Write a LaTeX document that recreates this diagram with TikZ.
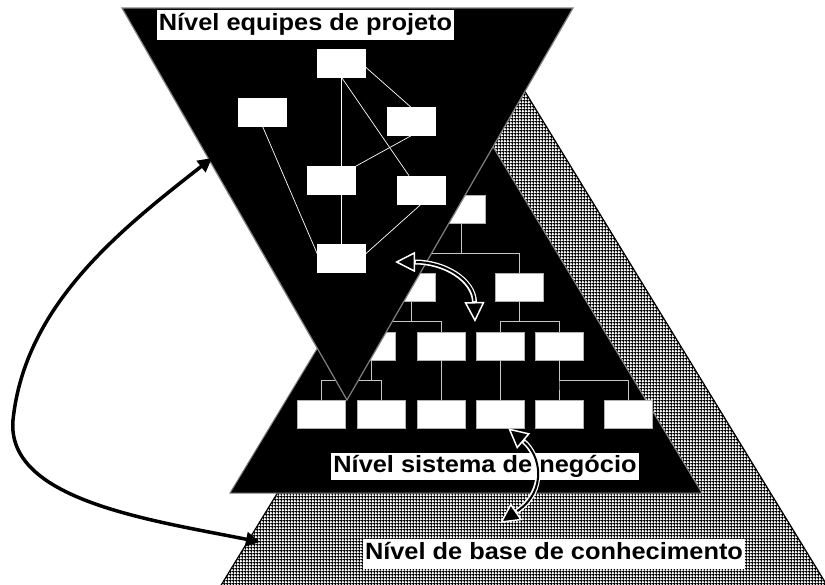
\documentclass[tikz,border=0pt]{standalone}
\usepackage{fontspec}
\setmainfont{Liberation Sans}
\usetikzlibrary{arrows.meta,patterns.meta}

% fine grid used for the knowledge base level
\tikzdeclarepattern{
  name=kbgrid,
  type=uncolored,
  bottom left={(0pt,0pt)},
  top right={(3.3pt,3.3pt)},
  tile size={(3.3pt,3.3pt)},
  code={
    \draw[line width=1pt] (0pt,1.65pt) -- (3.3pt,1.65pt) (1.65pt,0pt) -- (1.65pt,3.3pt);
  }
}

\begin{document}
\begin{tikzpicture}[x=1pt,y=-1pt,
    box/.style={draw=gray!60, fill=white, line width=0.6pt, minimum width=48pt, minimum height=28pt, inner sep=0pt},
    pbox/.style={box, draw=white},
    tline/.style={gray!45, line width=0.8pt},
    pline/.style={white, line width=0.7pt},
    lvl/.style={fill=white, inner xsep=2pt, inner ysep=3pt, text height=18pt, text depth=6pt, font=\bfseries\fontsize{23.5}{28}\selectfont},
    bigarrow/.style={black, line width=3.5pt, {Triangle[length=14pt,width=14pt]}-{Triangle[length=14pt,width=14pt]}},
    hollow/.style={white, line width=5pt, {Triangle[length=20pt,width=20pt,fill=black,line width=1.5pt]}-{Triangle[length=20pt,width=20pt,fill=black,line width=1.5pt]}},
    hcore/.style={black, line width=2pt, shorten <=21pt, shorten >=21pt}]
  \useasboundingbox (0,0) rectangle (825,584);

  % knowledge base level
  \draw[line width=1.2pt, pattern=kbgrid, pattern color=black] (524,90) -- (836,600) -- (212,600) -- cycle;

  % business system level
  \filldraw[fill=black, draw=gray, line width=1pt] (466,102) -- (702,493) -- (230,493) -- cycle;
  \node[box] (T1) at (461,209) {};
  \node[box] (T21) at (411,287.5) {};
  \node[box] (T22) at (519,287.5) {};
  \node[box] (A) at (371,346) {};
  \node[box] (B) at (441,346) {};
  \node[box] (C) at (500,346) {};
  \node[box] (D) at (559,346) {};
  \node[box] (R1) at (321.5,414) {};
  \node[box] (R2) at (381,414) {};
  \node[box] (R3) at (441,414) {};
  \node[box] (R4) at (500,414) {};
  \node[box] (R5) at (559,414) {};
  \node[box] (R6) at (628.5,414) {};
  \draw[tline] (T1.south) -- ++(0,30) -| (T21.north);
  \draw[tline] (T1.south) -- ++(0,30) -| (T22.north);
  \draw[tline] (T21.south) -- ++(0,20) -| (A.north);
  \draw[tline] (T21.south) -- ++(0,20) -| (B.north);
  \draw[tline] (T22.south) -- ++(0,20) -| (C.north);
  \draw[tline] (T22.south) -- ++(0,20) -| (D.north);
  \draw[tline] (A.south) -- ++(0,20) -| (R1.north);
  \draw[tline] (A.south) -- ++(0,20) -| (R2.north);
  \draw[tline] (B.south) -- (R3.north);
  \draw[tline] (C.south) -- (R4.north);
  \draw[tline] (D.south) -- ++(0,20) -| (R5.north);
  \draw[tline] (D.south) -- ++(0,20) -| (R6.north);

  % project teams level
  \filldraw[fill=black, draw=gray, line width=1.2pt] (122,8) -- (573,8) -- (347,400) -- cycle;
  \node[pbox] (P1) at (341.5,63) {};
  \node[pbox] (P2) at (262.5,112) {};
  \node[pbox] (P3) at (411,121.5) {};
  \node[pbox] (P4) at (331.5,180.5) {};
  \node[pbox] (P5) at (421,190) {};
  \node[pbox] (P6) at (341.5,258) {};
  \draw[pline] (P1.south) -- (P1.south |- P4.north);
  \draw[pline] (P1.south) -- (P5.130);
  \draw[pline] (P1.-10) -- (P3.north);
  \draw[pline] (P3.south) -- (P4.north east);
  \draw[pline] (P2.south) -- (P6.170);
  \draw[pline] (P4.south -| P6.north) -- (P6.north);
  \draw[pline] (P5.south) -- (P6.10);

  % level names
  \node[lvl] (proj) at (305.5,24.5) {\scalebox{1.08}[1]{Nível equipes de projeto}};
  \node[lvl, inner ysep=1.5pt] (biz) at (485,466) {\scalebox{1.08}[1]{Nível sistema de negócio}};
  \node[lvl] (kb) at (554,553.5) {\scalebox{1.08}[1]{Nível de base de conhecimento}};

  % arrows
  \coordinate (pe) at (212,158);
  \coordinate (ke) at (260,542);
  \draw[bigarrow] (pe) .. controls (120,230) and (25,305) .. (13,420) .. controls (6,500) and (150,520) .. (ke);
  \coordinate (pa) at (395,262);
  \coordinate (ba) at (475,322);
  \draw[hollow] (pa) .. controls (445,262) and (474,280) .. (ba);
  \draw[hcore] (pa) .. controls (445,262) and (474,280) .. (ba);
  \coordinate (kd) at (500,523);
  \draw[hollow] (R4.-60) .. controls (540,455) and (548,490) .. (kd);
  \draw[hcore] (R4.-60) .. controls (540,455) and (548,490) .. (kd);
\end{tikzpicture}
\end{document}
